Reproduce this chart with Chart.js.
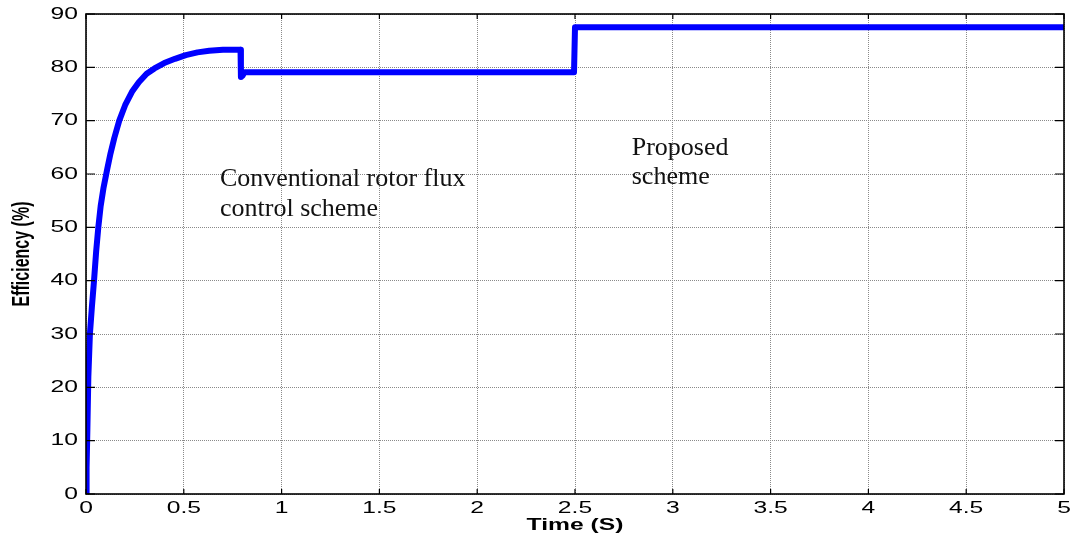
<!DOCTYPE html>
<html>
<head>
<meta charset="utf-8">
<script src="https://cdn.jsdelivr.net/npm/chart.js@4/dist/chart.umd.min.js"></script>
<style>
  html, body { margin: 0; padding: 0; background: #ffffff; }
  #wrap { width: 1073px; height: 540px; }
</style>
</head>
<body>
<div id="wrap"><canvas id="c" width="1073" height="540"></canvas></div>
<script>
// ---- data ----
const timeS = [0, 0.003, 0.007, 0.012, 0.02, 0.03, 0.041, 0.052, 0.063, 0.075, 0.09, 0.109, 0.125, 0.145, 0.17, 0.2, 0.235, 0.27, 0.31, 0.35, 0.4, 0.455, 0.51, 0.57, 0.63, 0.7, 0.79, 0.792, 0.8, 0.81, 2.495, 2.5, 5];
const efficiency = [0, 5, 12, 22, 30, 35, 40, 45.5, 50, 54, 57.5, 61, 63.8, 66.8, 70, 72.9, 75.4, 77.2, 78.8, 79.8, 80.8, 81.6, 82.3, 82.8, 83.1, 83.3, 83.3, 78.2, 78.4, 79.1, 79.1, 87.5, 87.5];
const xTickValues = [0, 0.5, 1, 1.5, 2, 2.5, 3, 3.5, 4, 4.5, 5];
const xTickLabels = ['0', '0.5', '1', '1.5', '2', '2.5', '3', '3.5', '4', '4.5', '5'];
const yTickValues = [0, 10, 20, 30, 40, 50, 60, 70, 80, 90];
const yTickLabels = ['0', '10', '20', '30', '40', '50', '60', '70', '80', '90'];
const xTitle = 'Time (S)';
const yTitle = 'Efficiency (%)';
const annotations = [
  { lines: ['Conventional rotor flux', 'control scheme'], x: 0.685, y: 57.75 },
  { lines: ['Proposed', 'scheme'], x: 2.79, y: 63.6 }
];

const points = timeS.map((t, i) => ({ x: t, y: efficiency[i] }));

// horizontal stretch of axis text (the reference figure is widened)
const STRETCH = 1.45;
let stretchOn = false;
const stretchPlugin = {
  id: 'stretchText',
  beforeInit(chart) {
    const ctx = chart.ctx;
    const orig = ctx.fillText.bind(ctx);
    ctx.fillText = function (text, x, y, maxWidth) {
      if (!stretchOn) {
        return maxWidth === undefined ? orig(text, x, y) : orig(text, x, y, maxWidth);
      }
      const m = ctx.getTransform();
      ctx.save();
      ctx.translate(x, y);
      if (Math.abs(m.b) > 0.5) ctx.scale(1, STRETCH); else ctx.scale(STRETCH, 1);
      orig(text, 0, 0);
      ctx.restore();
    };
  },
  beforeDraw() { stretchOn = true; },
  beforeDatasetsDraw() { stretchOn = false; }
};

const framePlugin = {
  id: 'frame',
  afterDatasetsDraw(chart) {
    const { ctx, chartArea: a, scales } = chart;
    ctx.save();
    // inward tick marks on all four sides
    ctx.strokeStyle = '#000';
    ctx.lineWidth = 1.2;
    ctx.beginPath();
    xTickValues.forEach(v => {
      const px = scales.x.getPixelForValue(v);
      ctx.moveTo(px, a.bottom); ctx.lineTo(px, a.bottom - 5);
      ctx.moveTo(px, a.top); ctx.lineTo(px, a.top + 5);
    });
    yTickValues.forEach(v => {
      const py = scales.y.getPixelForValue(v);
      ctx.moveTo(a.left, py); ctx.lineTo(a.left + 9, py);
      ctx.moveTo(a.right, py); ctx.lineTo(a.right - 9, py);
    });
    ctx.stroke();
    // box
    ctx.lineWidth = 1.6;
    ctx.strokeRect(a.left, a.top, a.right - a.left, a.bottom - a.top);
    ctx.restore();
  },
  afterDraw(chart) {
    const { ctx, scales } = chart;
    ctx.save();
    ctx.fillStyle = '#111';
    ctx.font = '26px "Liberation Serif", "Times New Roman", serif';
    ctx.textAlign = 'left';
    ctx.textBaseline = 'alphabetic';
    annotations.forEach(an => {
      const px = scales.x.getPixelForValue(an.x);
      const py = scales.y.getPixelForValue(an.y);
      an.lines.forEach((ln, i) => ctx.fillText(ln, px, py + i * 29.5));
    });
    ctx.restore();
  }
};

new Chart(document.getElementById('c'), {
  type: 'line',
  data: {
    datasets: [{
      data: points,
      borderColor: '#0000ff',
      backgroundColor: '#0000ff',
      borderWidth: 6,
      borderJoinStyle: 'round',
      borderCapStyle: 'butt',
      pointRadius: 0,
      tension: 0,
      fill: false
    }]
  },
  options: {
    responsive: false,
    animation: false,
    devicePixelRatio: 1,
    layout: { padding: { top: 14, right: 9, left: 0, bottom: 0 } },
    plugins: { legend: { display: false }, tooltip: { enabled: false } },
    scales: {
      x: {
        type: 'linear',
        min: 0, max: 5,
        afterBuildTicks(scale) { scale.ticks = xTickValues.map(v => ({ value: v })); },
        afterFit(scale) { scale.height = 46; scale.paddingLeft = 0; scale.paddingRight = 0; },
        ticks: {
          padding: 4,
          color: '#000',
          maxRotation: 0,
          font: { family: '"Liberation Sans", Arial, sans-serif', size: 17 },
          callback(value) { const i = xTickValues.indexOf(value); return i >= 0 ? xTickLabels[i] : ''; }
        },
        grid: { color: '#8a8a8a', lineWidth: 1, drawTicks: false },
        border: { display: false, dash: [1, 1] },
        title: {
          display: true, text: xTitle, color: '#000',
          font: { family: '"Liberation Sans", Arial, sans-serif', size: 17, weight: 'bold' },
          padding: { top: 0, bottom: 4 }
        }
      },
      y: {
        min: 0, max: 90,
        afterBuildTicks(scale) { scale.ticks = yTickValues.map(v => ({ value: v })); },
        afterFit(scale) { scale.width = 86; scale.paddingTop = 0; scale.paddingBottom = 0; },
        ticks: {
          padding: 8,
          color: '#000',
          font: { family: '"Liberation Sans", Arial, sans-serif', size: 17 },
          callback(value) { const i = yTickValues.indexOf(value); return i >= 0 ? yTickLabels[i] : ''; }
        },
        grid: { color: '#8a8a8a', lineWidth: 1, drawTicks: false },
        border: { display: false, dash: [1, 1] },
        title: {
          display: true, text: yTitle, color: '#000',
          font: { family: '"Liberation Sans", Arial, sans-serif', size: 16, weight: 'bold' },
          padding: { top: 13, bottom: 0 }
        }
      }
    }
  },
  plugins: [stretchPlugin, framePlugin]
});
</script>
</body>
</html>
